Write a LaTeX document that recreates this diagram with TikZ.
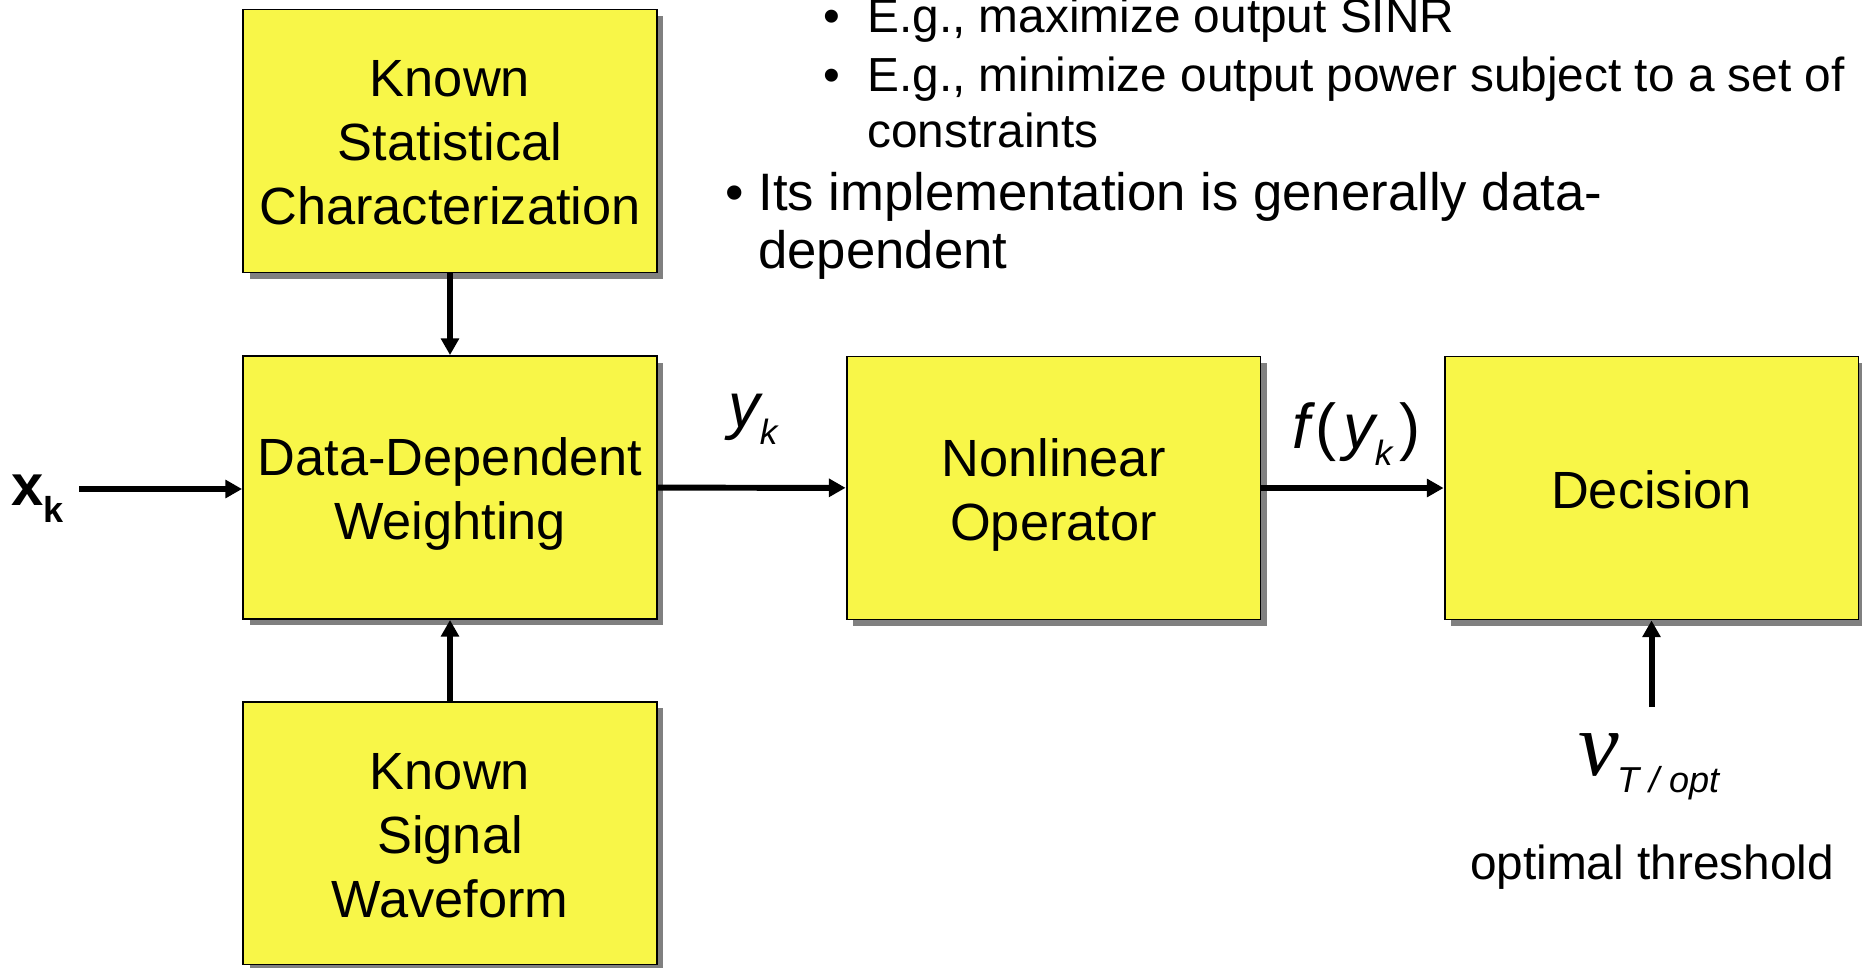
\documentclass[tikz,border=0pt]{standalone}
\usepackage{fontspec}
\setmainfont{Liberation Sans}
\newfontfamily\serifgreek{Liberation Serif}
\usetikzlibrary{arrows.meta,shadows}
\definecolor{boxyellow}{RGB}{248,246,72}
\definecolor{shadowgray}{RGB}{128,128,128}
\begin{document}
\begin{tikzpicture}[x=0.02cm,y=-0.02cm,
  box/.style={draw=black, line width=1.1pt, fill=boxyellow, minimum width=8.28cm, minimum height=5.26cm, inner sep=0pt, drop shadow={shadow xshift=0.13cm, shadow yshift=-0.13cm, fill=shadowgray, opacity=1}},
  boxtxt/.style={inner sep=0pt, align=center, font=\fontsize{29.8}{36.3}\selectfont},
  conn/.style={line width=3.4pt, -{Triangle[length=9.5pt,width=10pt]}},
  lbl/.style={inner sep=0pt, anchor=base west},
  subtxt/.style={lbl, font=\fontsize{27.2}{31.7}\selectfont},
  maintxt/.style={lbl, font=\fontsize{30}{35.7}\selectfont},
]
\useasboundingbox (0,0) rectangle (1862,967);

\node[box] (ksc) at (450,141) {};
\node[box] (ddw) at (450,487.5) {};
\node[box] (ksw) at (450,833) {};
\node[box] (nlo) at (1053.5,488) {};
\node[box] (dec) at (1651.5,488) {};

\node[boxtxt] (ksct) at ([yshift=-0.9pt]ksc.center) {Known\\Statistical\\Characterization};
\node[boxtxt] (ddwt) at ([yshift=-3.7pt]ddw.center) {Data-Dependent\\Weighting};
\node[boxtxt] (kswt) at ([yshift=-1.7pt]ksw.center) {Known\\Signal\\Waveform};
\node[boxtxt] (nlot) at ([yshift=-4pt]nlo.center) {Nonlinear\\Operator};
\node[boxtxt] (dect) at ([yshift=-1.1pt]dec.center) {Decision};

\coordinate (xin) at (79,489);
\coordinate (thr) at (1651.5,707);

\draw[conn] (ksc) -- (ddw);
\draw[conn] (ksw) -- (ddw);
\draw[conn] (xin) -- (xin -| ddw.west);
\draw[conn] (ddw) -- (nlo);
\draw[conn] (nlo) -- (dec);
\draw[conn] (thr) -- (dec);

\node[lbl] (xk) at (11,505) {\fontsize{33}{33}\selectfont\bfseries x\raisebox{-10pt}{\fontsize{20.5}{20.5}\selectfont k}};
\node[lbl] (yk) at (728,427) {\fontsize{36}{36}\selectfont\itshape y\raisebox{-10pt}{\fontsize{20}{20}\selectfont k}};
\node[lbl] (fyk) at (1292,448) {\fontsize{36}{36}\selectfont\itshape f\kern3pt\upshape(\kern4pt\itshape y\raisebox{-10pt}{\fontsize{20}{20}\selectfont k}\kern4pt\upshape)};
\node[lbl] (nu) at (1578,775) {\fontsize{52}{52}\selectfont\makebox[22pt][l]{\serifgreek\itshape ν}\raisebox{-10pt}{\fontsize{20.5}{20.5}\selectfont\normalfont\itshape T / opt}};
\node[inner sep=0pt, anchor=base] (ot) at (1652,879) {\fontsize{27.2}{27.2}\selectfont optimal threshold};

\node[subtxt] (s1b) at (823,32) {•};
\node[subtxt] (s1) at (867,32) {E.g., maximize output SINR};
\node[subtxt] (s2b) at (823,91) {•};
\node[subtxt] (s2) at (867,91) {E.g., minimize output power subject to a set of};
\node[subtxt] (s2c) at (867,147) {constraints};
\node[maintxt] (m1b) at (725,210) {•};
\node[maintxt] (m1) at (758,210) {Its implementation is generally data-};
\node[maintxt] (m1c) at (758,268) {dependent};
\end{tikzpicture}
\end{document}
